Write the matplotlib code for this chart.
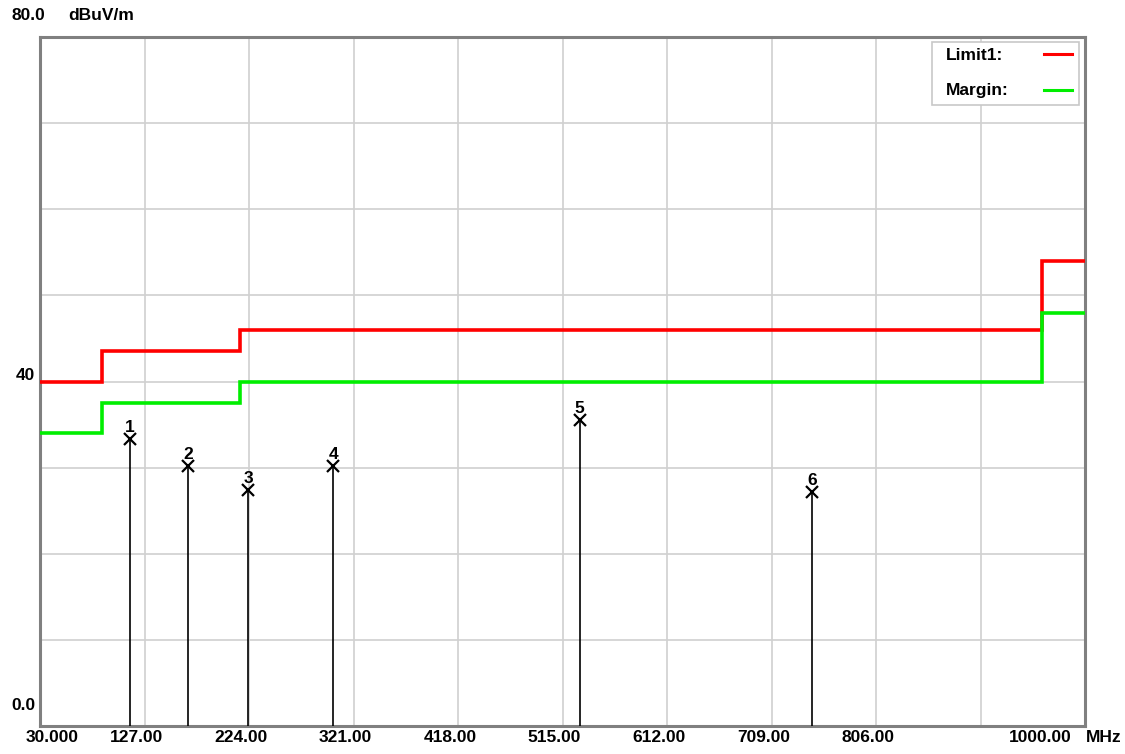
import matplotlib
matplotlib.use("Agg")
import matplotlib.pyplot as plt
import matplotlib.transforms as mtransforms
from matplotlib.patches import Rectangle
from matplotlib.lines import Line2D

# ---- data ----
x_ticks = [30, 127, 224, 321, 418, 515, 612, 709, 806, 903, 1000]
x_tick_labels = ["30.000", "127.00", "224.00", "321.00", "418.00", "515.00",
                 "612.00", "709.00", "806.00", "", "1000.00"]
y_grid = [0, 10, 20, 30, 40, 50, 60, 70, 80]
y_labels = {80: "80.0", 40: "40", 0: "0.0"}

limit_freq = [30, 88, 88, 216, 216, 960, 960, 1000]
limit_level = [40, 40, 43.5, 43.5, 46, 46, 54, 54]
margin_level = [34, 34, 37.5, 37.5, 40, 40, 48, 48]

peak_ids = ["1", "2", "3", "4", "5", "6"]
peak_freq = [113.5, 167.6, 223.1, 302.1, 530.9, 746.4]
peak_level = [33.3, 30.2, 27.4, 30.2, 35.5, 27.2]

# ---- figure ----
W, H = 1125, 754
fig = plt.figure(figsize=(W / 100, H / 100), dpi=100)
L, R, T, B = 40, 1085, 37, 726
ax = fig.add_axes([L / W, 1 - B / H, (R - L) / W, (B - T) / H])
ax.set_xlim(30, 1000)
ax.set_ylim(0, 80)

font = dict(family=["Liberation Sans", "DejaVu Sans"],
            fontweight="bold", fontsize=12.5, color="black")

for x in x_ticks[1:-1]:
    ax.axvline(x, color="#d0d0d0", lw=1.2, zorder=1)
for y in y_grid[1:-1]:
    ax.axhline(y, color="#d0d0d0", lw=1.2, zorder=1)

ax.plot(limit_freq, limit_level, color="#ff0000", lw=2.6, zorder=3,
        solid_joinstyle="miter")
ax.plot(limit_freq, margin_level, color="#00ee00", lw=2.6, zorder=3,
        solid_joinstyle="miter")

ax.vlines(peak_freq, 0, peak_level, color="black", lw=1.2, zorder=4)
ax.plot(peak_freq, peak_level, linestyle="none", marker="x", markersize=8,
        markeredgewidth=1.6, color="black", zorder=5)
for pid, f, lv in zip(peak_ids, peak_freq, peak_level):
    ax.annotate(pid, (f, lv), xytext=(0, 3), textcoords="offset points",
                ha="center", va="bottom", **font)

for s in ax.spines.values():
    s.set_color("#808080")
    s.set_linewidth(2.2)
ax.set_xticks([])
ax.set_yticks([])

# x tick labels
trans_x = mtransforms.blended_transform_factory(ax.transData, ax.transAxes)
for i, (x, lab) in enumerate(zip(x_ticks, x_tick_labels)):
    if not lab:
        continue
    if i == 0:
        dx = 12
    elif i == len(x_ticks) - 1:
        dx = -45
    else:
        dx = -8
    off = mtransforms.offset_copy(trans_x, fig=fig, x=dx, y=-4, units="dots")
    ax.text(x, 0, lab, transform=off, ha="center", va="top", **font)
fig.text(1086 / W, 1 - 737 / H, "MHz", ha="left", va="center", **font)

# y labels
trans_y = mtransforms.blended_transform_factory(ax.transAxes, ax.transData)
ax.text(0, 40, y_labels[40], transform=mtransforms.offset_copy(trans_y, fig=fig, x=-5, y=6, units="dots"),
        ha="right", va="center", **font)
ax.text(0, 0, y_labels[0], transform=mtransforms.offset_copy(trans_y, fig=fig, x=-5, y=20, units="dots"),
        ha="right", va="center", **font)
fig.text(11 / W, 1 - 16 / H, y_labels[80], ha="left", va="center", **font)
fig.text(68 / W, 1 - 16 / H, "dBuV/m", ha="left", va="center", **font)

# legend box
bx0, by0, bx1, by1 = 932, 42, 1079, 105
fig.patches.append(Rectangle((bx0 / W, 1 - by1 / H), (bx1 - bx0) / W, (by1 - by0) / H,
                             transform=fig.transFigure, facecolor="white",
                             edgecolor="#c8c8c8", lw=1.2, zorder=10))
fig.text(946 / W, 1 - 55 / H, "Limit1:", ha="left", va="center", zorder=11, **font)
fig.text(946 / W, 1 - 91 / H, "Margin:", ha="left", va="center", zorder=11, **font)
fig.lines.append(Line2D([1044 / W, 1072 / W], [1 - 54 / H, 1 - 54 / H],
                        transform=fig.transFigure, color="#ff0000", lw=2.2, zorder=11))
fig.lines.append(Line2D([1044 / W, 1072 / W], [1 - 90 / H, 1 - 90 / H],
                        transform=fig.transFigure, color="#00ee00", lw=2.2, zorder=11))

fig.savefig("out.png", dpi=100, facecolor="white")
